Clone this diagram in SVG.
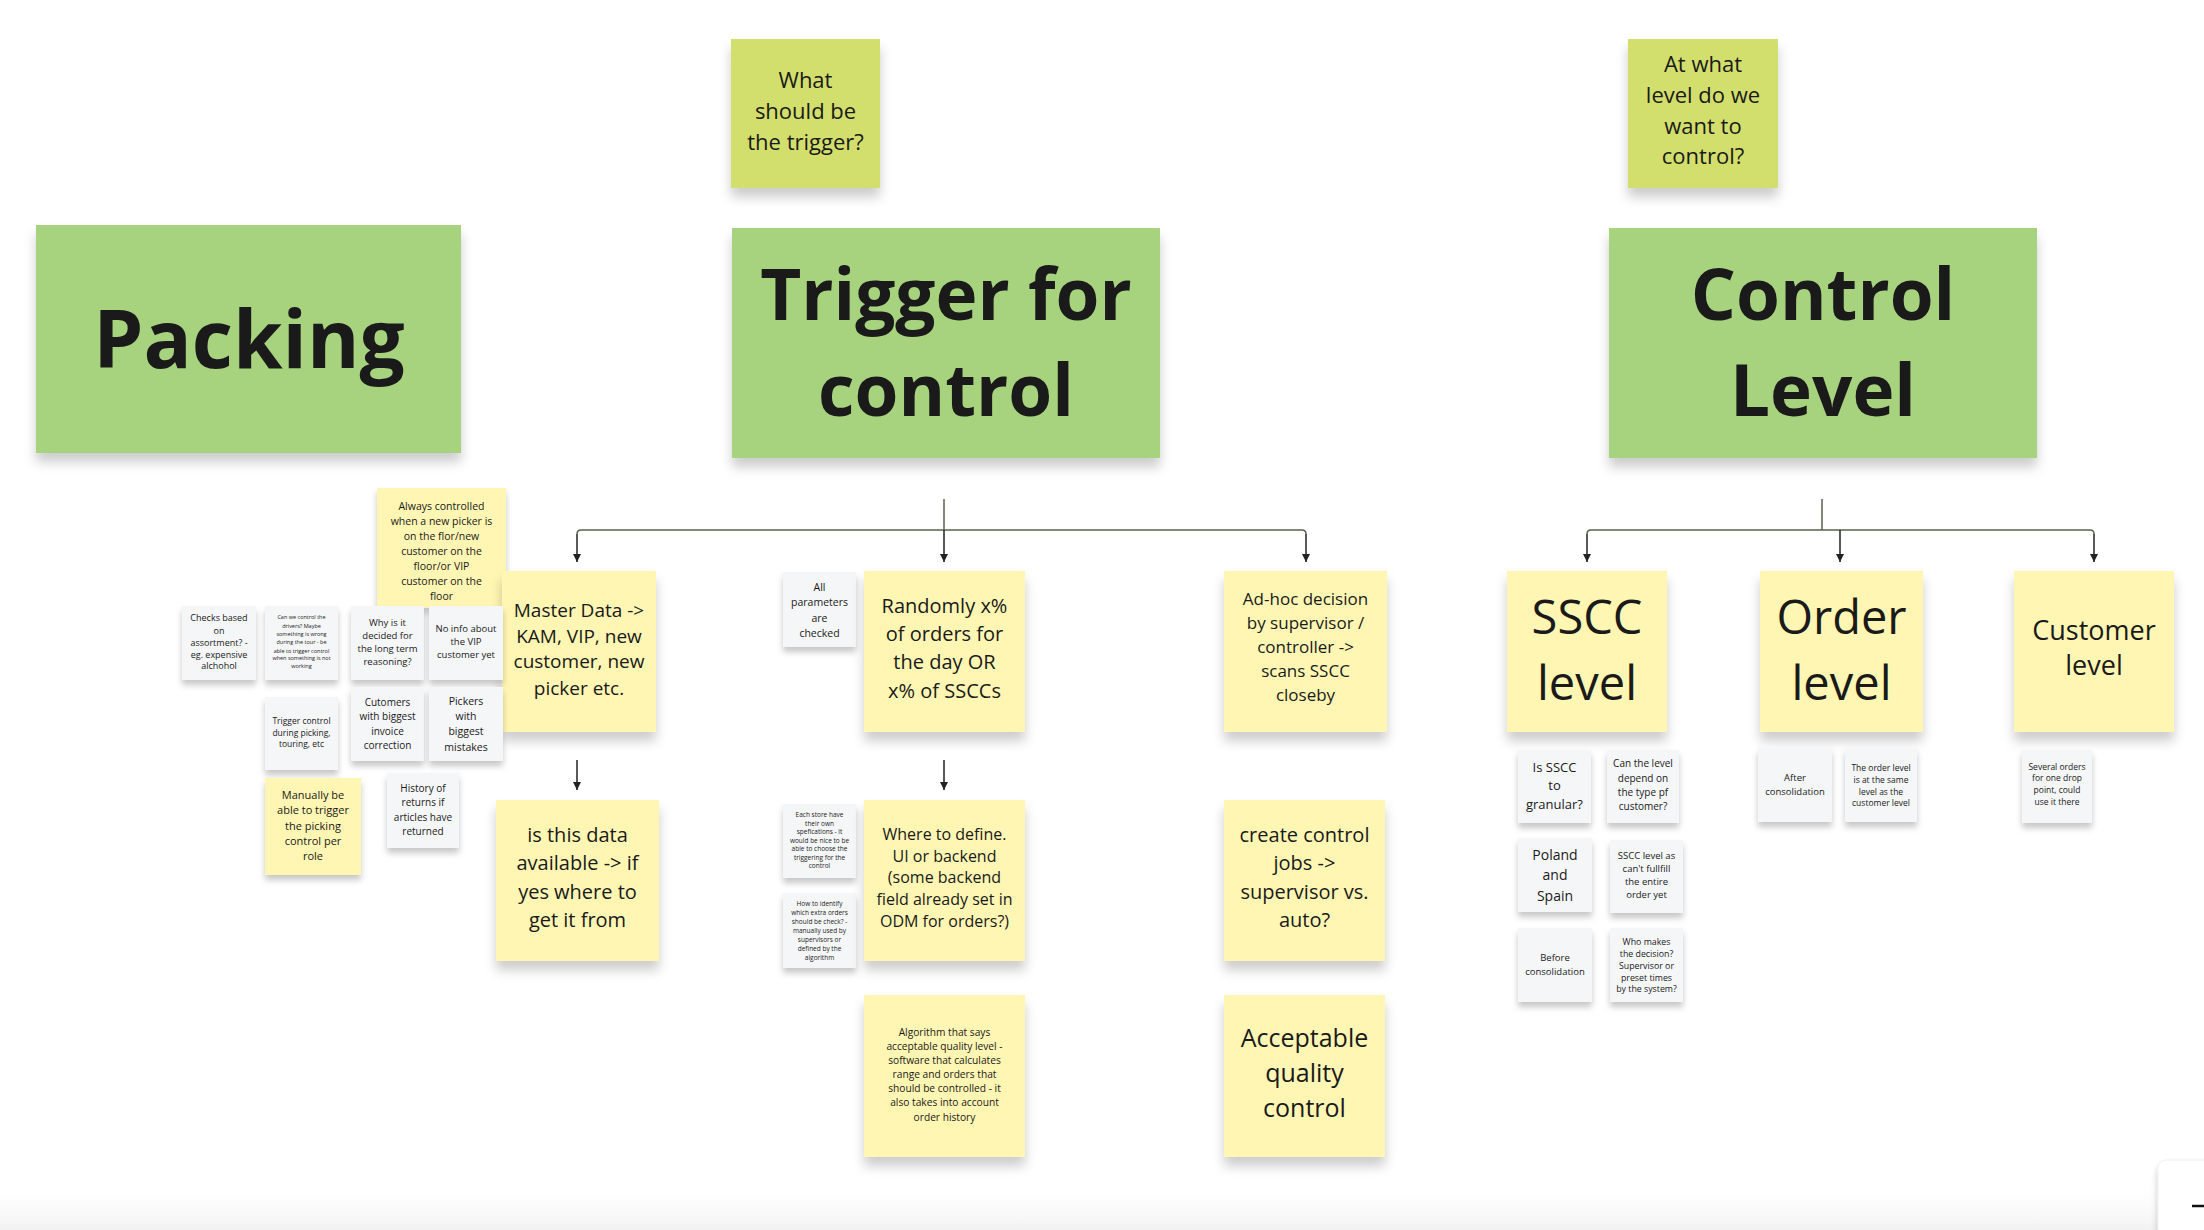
<svg xmlns="http://www.w3.org/2000/svg" width="2204" height="1230" viewBox="0 0 2204 1230">
<defs>
<filter id="sh" x="-20%" y="-20%" width="140%" height="160%"><feDropShadow dx="0" dy="9" stdDeviation="6" flood-color="#000" flood-opacity="0.2"/></filter>
<filter id="shs" x="-20%" y="-20%" width="140%" height="160%"><feDropShadow dx="0" dy="5" stdDeviation="3" flood-color="#000" flood-opacity="0.22"/></filter>
<marker id="ah" viewBox="0 0 10 10" refX="10" refY="5" markerWidth="8" markerHeight="8" markerUnits="userSpaceOnUse" orient="auto"><path d="M0,0 L10,5 L0,10 z" fill="#222"/></marker>
<linearGradient id="bot" x1="0" y1="0" x2="0" y2="1"><stop offset="0" stop-color="#ffffff" stop-opacity="0"/><stop offset="1" stop-color="#ececec" stop-opacity="0.7"/></linearGradient>
</defs>
<style>
text{font-family:"Open Sans","Liberation Sans",sans-serif;fill:#1a1a1a;text-anchor:middle}
.title{font-weight:700}
.green{fill:#a8d37e;filter:url(#sh)}
.lime{fill:#d3df6c;filter:url(#sh)}
.yel{fill:#fff6b3;filter:url(#sh)}
.yels{fill:#fff6b3;filter:url(#shs)}
.wht{fill:#f5f6f8;filter:url(#shs)}
.conn{fill:none;stroke:#5a614f;stroke-width:1.5}
.arr{fill:none;stroke:#222;stroke-width:1.5;marker-end:url(#ah)}
</style>
<rect width="2204" height="1230" fill="#ffffff"/>
<rect x="0" y="1180" width="2204" height="50" fill="url(#bot)"/>

<g id="connectors">
<path class="conn" d="M944 499 V530 M577 534 Q577 530 581 530 H1302 Q1306 530 1306 534"/>
<path class="arr" d="M577 534 V562"/>
<path class="arr" d="M944 530 V562"/>
<path class="arr" d="M1306 534 V562"/>
<path class="conn" d="M1822 499 V530 M1587 534 Q1587 530 1591 530 H2090 Q2094 530 2094 534"/>
<path class="arr" d="M1587 534 V562"/>
<path class="arr" d="M1840 530 V562"/>
<path class="arr" d="M2094 534 V562"/>
<path class="arr" d="M577 760 V790"/>
<path class="arr" d="M944 760 V790"/>
</g>

<g id="packing"><rect class="green" x="36" y="225" width="425" height="228"/><text class="title" x="249" y="368" font-size="80">Packing</text></g>
<g id="trigger-for-control"><rect class="green" x="732" y="228" width="428" height="230"/><text class="title" x="946" font-size="71"><tspan x="946" y="320">Trigger for</tspan><tspan x="946" y="416">control</tspan></text></g>
<g id="control-level"><rect class="green" x="1609" y="228" width="428" height="230"/><text class="title" x="1823" font-size="71"><tspan x="1823" y="320">Control</tspan><tspan x="1823" y="416">Level</tspan></text></g>

<g id="q-trigger"><rect class="lime" x="731" y="39" width="149" height="149"/><text font-size="22"><tspan x="805.5" y="88">What</tspan><tspan x="805.5" y="119">should be</tspan><tspan x="805.5" y="150">the trigger?</tspan></text></g>
<g id="q-level"><rect class="lime" x="1628" y="39" width="150" height="149"/><text font-size="22"><tspan x="1703" y="72">At what</tspan><tspan x="1703" y="103">level do we</tspan><tspan x="1703" y="134">want to</tspan><tspan x="1703" y="164">control?</tspan></text></g>

<g id="always-controlled"><rect class="yels" x="377" y="488" width="129" height="120"/><text font-size="10.5"><tspan x="441.5" y="509.5">Always controlled</tspan><tspan x="441.5" y="524.5">when a new picker is</tspan><tspan x="441.5" y="539.5">on the flor/new</tspan><tspan x="441.5" y="554.5">customer on the</tspan><tspan x="441.5" y="569.5">floor/or VIP</tspan><tspan x="441.5" y="584.5">customer on the</tspan><tspan x="441.5" y="599.5">floor</tspan></text></g>

<g id="master-data"><rect class="yel" x="502" y="571" width="154" height="161"/><text font-size="19"><tspan x="579" y="617">Master Data -&gt;</tspan><tspan x="579" y="643">KAM, VIP, new</tspan><tspan x="579" y="668">customer, new</tspan><tspan x="579" y="695">picker etc.</tspan></text></g>
<g id="all-parameters"><rect class="wht" x="783" y="572" width="73" height="75"/><text font-size="10.5"><tspan x="819.5" y="591">All</tspan><tspan x="819.5" y="606">parameters</tspan><tspan x="819.5" y="622">are</tspan><tspan x="819.5" y="637">checked</tspan></text></g>
<g id="randomly"><rect class="yel" x="864" y="571" width="161" height="161"/><text font-size="20"><tspan x="944.5" y="613">Randomly x%</tspan><tspan x="944.5" y="641">of orders for</tspan><tspan x="944.5" y="669">the day OR</tspan><tspan x="944.5" y="698">x% of SSCCs</tspan></text></g>
<g id="ad-hoc"><rect class="yel" x="1224" y="571" width="163" height="161"/><text font-size="17"><tspan x="1305.5" y="605">Ad-hoc decision</tspan><tspan x="1305.5" y="629">by supervisor /</tspan><tspan x="1305.5" y="653">controller -&gt;</tspan><tspan x="1305.5" y="677">scans SSCC</tspan><tspan x="1305.5" y="701">closeby</tspan></text></g>

<g id="data-available"><rect class="yel" x="496" y="800" width="163" height="161"/><text font-size="20"><tspan x="577.5" y="842">is this data</tspan><tspan x="577.5" y="870">available -&gt; if</tspan><tspan x="577.5" y="899">yes where to</tspan><tspan x="577.5" y="927">get it from</tspan></text></g>
<g id="each-store"><rect class="wht" x="783" y="804" width="73" height="74"/><text font-size="6.5"><tspan x="819.5" y="817">Each store have</tspan><tspan x="819.5" y="825.5">their own</tspan><tspan x="819.5" y="834">spefications - it</tspan><tspan x="819.5" y="842.5">would be nice to be</tspan><tspan x="819.5" y="851">able to choose the</tspan><tspan x="819.5" y="859.5">triggering for the</tspan><tspan x="819.5" y="868">control</tspan></text></g>
<g id="how-to-identify"><rect class="wht" x="783" y="893" width="73" height="75"/><text font-size="6.5"><tspan x="819.5" y="906">How to identify</tspan><tspan x="819.5" y="915">which extra orders</tspan><tspan x="819.5" y="924">should be check? -</tspan><tspan x="819.5" y="933">manually used by</tspan><tspan x="819.5" y="942">supervisors or</tspan><tspan x="819.5" y="951">defined by the</tspan><tspan x="819.5" y="960">algorithm</tspan></text></g>
<g id="where-to-define"><rect class="yel" x="864" y="800" width="161" height="161"/><text font-size="16"><tspan x="944.5" y="840">Where to define.</tspan><tspan x="944.5" y="862">UI or backend</tspan><tspan x="944.5" y="883">(some backend</tspan><tspan x="944.5" y="905">field already set in</tspan><tspan x="944.5" y="927">ODM for orders?)</tspan></text></g>
<g id="create-jobs"><rect class="yel" x="1224" y="800" width="161" height="161"/><text font-size="20"><tspan x="1304.5" y="842">create control</tspan><tspan x="1304.5" y="870">jobs -&gt;</tspan><tspan x="1304.5" y="899">supervisor vs.</tspan><tspan x="1304.5" y="927">auto?</tspan></text></g>

<g id="algorithm"><rect class="yel" x="864" y="995" width="161" height="162"/><text font-size="10.2"><tspan x="944.5" y="1035.5">Algorithm that says</tspan><tspan x="944.5" y="1049.5">acceptable quality level -</tspan><tspan x="944.5" y="1063.5">software that calculates</tspan><tspan x="944.5" y="1077.5">range and orders that</tspan><tspan x="944.5" y="1091.5">should be controlled - it</tspan><tspan x="944.5" y="1106">also takes into account</tspan><tspan x="944.5" y="1120.5">order history</tspan></text></g>
<g id="acceptable"><rect class="yel" x="1224" y="995" width="161" height="162"/><text font-size="25"><tspan x="1304.5" y="1047">Acceptable</tspan><tspan x="1304.5" y="1082">quality</tspan><tspan x="1304.5" y="1117">control</tspan></text></g>

<g id="checks-based"><rect class="wht" x="182" y="606" width="74" height="74"/><text font-size="9"><tspan x="219" y="621">Checks based</tspan><tspan x="219" y="634">on</tspan><tspan x="219" y="646">assortment? -</tspan><tspan x="219" y="658">eg. expensive</tspan><tspan x="219" y="669">alchohol</tspan></text></g>
<g id="drivers"><rect class="wht" x="265" y="606" width="73" height="74"/><text font-size="5.5"><tspan x="301.5" y="619">Can we control the</tspan><tspan x="301.5" y="627.5">drivers? Maybe</tspan><tspan x="301.5" y="636">something is wrong</tspan><tspan x="301.5" y="644">during the tour - be</tspan><tspan x="301.5" y="652.5">able to trigger control</tspan><tspan x="301.5" y="660">when something is not</tspan><tspan x="301.5" y="668">working</tspan></text></g>
<g id="why-decided"><rect class="wht" x="351" y="606" width="73" height="74"/><text font-size="9.5"><tspan x="387.5" y="626">Why is it</tspan><tspan x="387.5" y="639">decided for</tspan><tspan x="387.5" y="652">the long term</tspan><tspan x="387.5" y="665">reasoning?</tspan></text></g>
<g id="no-info"><rect class="wht" x="429" y="606" width="74" height="74"/><text font-size="9.5"><tspan x="466" y="632">No info about</tspan><tspan x="466" y="645">the VIP</tspan><tspan x="466" y="658">customer yet</tspan></text></g>
<g id="trigger-during"><rect class="wht" x="265" y="697" width="73" height="73"/><text font-size="8.5"><tspan x="301.5" y="724">Trigger control</tspan><tspan x="301.5" y="735.5">during picking,</tspan><tspan x="301.5" y="747">touring, etc</tspan></text></g>
<g id="customers-invoice"><rect class="wht" x="351" y="687" width="73" height="74"/><text font-size="10"><tspan x="387.5" y="705.5">Cutomers</tspan><tspan x="387.5" y="720">with biggest</tspan><tspan x="387.5" y="734.5">invoice</tspan><tspan x="387.5" y="748.5">correction</tspan></text></g>
<g id="pickers-mistakes"><rect class="wht" x="429" y="687" width="74" height="74"/><text font-size="10.5"><tspan x="466" y="704.5">Pickers</tspan><tspan x="466" y="719.5">with</tspan><tspan x="466" y="735">biggest</tspan><tspan x="466" y="750.5">mistakes</tspan></text></g>
<g id="manually"><rect class="yels" x="265" y="778" width="96" height="97"/><text font-size="11"><tspan x="313" y="798.5">Manually be</tspan><tspan x="313" y="813.5">able to trigger</tspan><tspan x="313" y="829.5">the picking</tspan><tspan x="313" y="844.5">control per</tspan><tspan x="313" y="859.5">role</tspan></text></g>
<g id="history-returns"><rect class="wht" x="387" y="773" width="72" height="75"/><text font-size="10"><tspan x="423" y="791.5">History of</tspan><tspan x="423" y="805.5">returns if</tspan><tspan x="423" y="820.5">articles have</tspan><tspan x="423" y="834.5">returned</tspan></text></g>

<g id="sscc-level"><rect class="yel" x="1507" y="571" width="160" height="161"/><text font-size="47"><tspan x="1587" y="634">SSCC</tspan><tspan x="1587" y="700">level</tspan></text></g>
<g id="order-level"><rect class="yel" x="1760" y="571" width="163" height="161"/><text font-size="47"><tspan x="1841.5" y="634">Order</tspan><tspan x="1841.5" y="700">level</tspan></text></g>
<g id="customer-level"><rect class="yel" x="2014" y="571" width="160" height="161"/><text font-size="27"><tspan x="2094" y="640">Customer</tspan><tspan x="2094" y="675">level</tspan></text></g>

<g id="sscc-granular"><rect class="wht" x="1518" y="750" width="73" height="73"/><text font-size="13"><tspan x="1554.5" y="771.5">Is SSCC</tspan><tspan x="1554.5" y="789.5">to</tspan><tspan x="1554.5" y="808.5">granular?</tspan></text></g>
<g id="type-customer"><rect class="wht" x="1607" y="750" width="72" height="73"/><text font-size="10"><tspan x="1643" y="766.5">Can the level</tspan><tspan x="1643" y="781.5">depend on</tspan><tspan x="1643" y="795.5">the type pf</tspan><tspan x="1643" y="809.5">customer?</tspan></text></g>
<g id="poland-spain"><rect class="wht" x="1518" y="838" width="74" height="74"/><text font-size="14"><tspan x="1555" y="860">Poland</tspan><tspan x="1555" y="880">and</tspan><tspan x="1555" y="901">Spain</tspan></text></g>
<g id="sscc-fulfill"><rect class="wht" x="1610" y="840" width="73" height="73"/><text font-size="9.5"><tspan x="1646.5" y="858.5">SSCC level as</tspan><tspan x="1646.5" y="871.5">can't fullfill</tspan><tspan x="1646.5" y="885">the entire</tspan><tspan x="1646.5" y="898">order yet</tspan></text></g>
<g id="before-consolidation"><rect class="wht" x="1518" y="928" width="74" height="74"/><text font-size="9.5"><tspan x="1555" y="961">Before</tspan><tspan x="1555" y="975">consolidation</tspan></text></g>
<g id="who-decides"><rect class="wht" x="1610" y="928" width="73" height="74"/><text font-size="8.8"><tspan x="1646.5" y="945">Who makes</tspan><tspan x="1646.5" y="957">the decision?</tspan><tspan x="1646.5" y="969">Supervisor or</tspan><tspan x="1646.5" y="980.5">preset times</tspan><tspan x="1646.5" y="992">by the system?</tspan></text></g>

<g id="after-consolidation"><rect class="wht" x="1758" y="748" width="74" height="74"/><text font-size="9.5"><tspan x="1795" y="781">After</tspan><tspan x="1795" y="795">consolidation</tspan></text></g>
<g id="order-same-customer"><rect class="wht" x="1845" y="748" width="72" height="74"/><text font-size="8.5"><tspan x="1881" y="771">The order level</tspan><tspan x="1881" y="783">is at the same</tspan><tspan x="1881" y="795">level as the</tspan><tspan x="1881" y="806">customer level</tspan></text></g>
<g id="several-orders"><rect class="wht" x="2022" y="750" width="70" height="73"/><text font-size="8.5"><tspan x="2057" y="770">Several orders</tspan><tspan x="2057" y="781">for one drop</tspan><tspan x="2057" y="793">point, could</tspan><tspan x="2057" y="805">use it there</tspan></text></g>

<rect x="2158" y="1160" width="60" height="80" rx="8" fill="#ffffff" stroke="#f0f0f2" stroke-width="1" filter="url(#shs)"/>
<line x1="2192" y1="1206" x2="2204" y2="1206" stroke="#111" stroke-width="2.5"/>
</svg>
